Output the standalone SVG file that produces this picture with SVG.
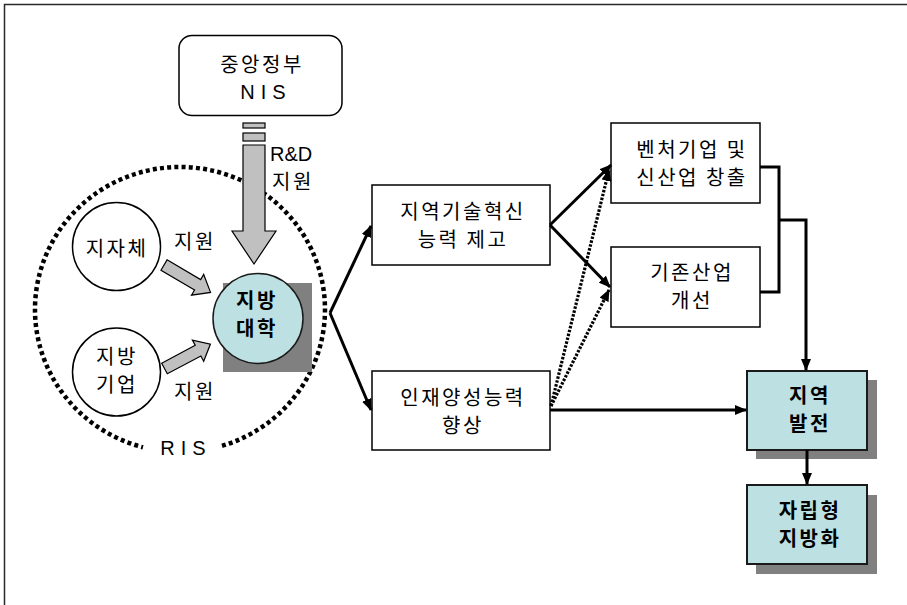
<svg xmlns="http://www.w3.org/2000/svg" width="907" height="605" viewBox="0 0 907 605">
<style>
.t{font-family:"Noto Sans CJK KR","Liberation Sans",sans-serif;font-size:20px;letter-spacing:2.5px;text-anchor:middle;fill:#000}
.b{font-weight:bold}
.lat{font-family:"Liberation Sans","Noto Sans CJK KR",sans-serif;font-size:20px;fill:#000}
.box{fill:#fff;stroke:#000;stroke-width:1.5}
.cy{fill:#bde0e3;stroke:#1a1a1a;stroke-width:2}
.sh{fill:#808080}
.blk{fill:#c0c0c0;stroke:#000;stroke-width:1.2;stroke-linejoin:miter}
.ln{fill:none;stroke:#000;stroke-width:3}
.dl{fill:none;stroke:#000;stroke-width:3.2;stroke-dasharray:2.5 1.5}
</style>
<defs>
<marker id="ah" markerUnits="userSpaceOnUse" markerWidth="12" markerHeight="10" refX="11" refY="5" orient="auto">
<path d="M0,0 L12,5 L0,10 z" fill="#000"/>
</marker>
</defs>
<rect width="907" height="605" fill="#fff"/>
<path d="M4.5,605 V4.5 H907" fill="none" stroke="#2a2a2a" stroke-width="1.5"/>

<g id="ris">
<path d="M 222 445.9 A 145 142.5 0 1 0 143 447.3" fill="none" stroke="#000" stroke-width="4.5" stroke-dasharray="4 3.2"/>
<text class="lat" x="186" y="455" text-anchor="middle" letter-spacing="6">RIS</text>
</g>

<g id="central">
<rect class="box" x="179" y="35.5" width="163" height="80" rx="13"/>
<text class="t" x="262" y="72">중앙정부</text>
<text class="lat" x="266" y="99" text-anchor="middle" letter-spacing="6">NIS</text>
</g>

<g id="rnd-arrow">
<rect class="blk" x="243" y="123" width="22" height="5"/>
<rect class="blk" x="243" y="133" width="22" height="8"/>
<polygon class="blk" points="243,145 265,145 265,231 276,231 254,264 232,231 243,231"/>
<text class="lat" x="270" y="161">R&amp;D</text>
<text class="t" x="293" y="189">지원</text>
</g>

<g id="jijache">
<circle cx="116.5" cy="246.5" r="44" fill="#fff" stroke="#000" stroke-width="1.5"/>
<text class="t" x="117" y="256">지자체</text>
</g>

<g id="jibang-giup">
<circle cx="116.5" cy="372" r="44" fill="#fff" stroke="#000" stroke-width="1.5"/>
<text class="t" x="117" y="364">지방<tspan x="117" dy="28">기업</tspan></text>
</g>

<g id="support-arrows">
<polygon class="blk" transform="translate(164,265) rotate(30.5)" points="0,-6 39,-6 39,-12 54,0 39,12 39,6 0,6"/>
<text class="t" x="195" y="249">지원</text>
<polygon class="blk" transform="translate(164.5,368.5) rotate(-28)" points="0,-6 38,-6 38,-12 52,0 38,12 38,6 0,6"/>
<text class="t" x="195" y="399">지원</text>
</g>

<g id="univ">
<rect class="sh" x="223" y="283" width="89" height="89"/>
<circle cx="258" cy="318.5" r="45" fill="#bde0e3" stroke="#1a1a1a" stroke-width="1.5"/>
<text class="t b" x="257" y="308">지방<tspan x="257" dy="27.5">대학</tspan></text>
</g>

<g id="tech">
<rect class="box" x="372" y="185" width="178" height="80"/>
<text class="t" x="463" y="219">지역기술혁신<tspan x="463" dy="27.5">능력 제고</tspan></text>
</g>

<g id="talent">
<rect class="box" x="372" y="371" width="178" height="79"/>
<text class="t" x="463" y="405">인재양성능력<tspan x="463" dy="27.5">향상</tspan></text>
</g>

<g id="venture">
<rect class="box" x="611" y="123" width="149" height="80"/>
<text class="t" x="692" y="157">벤처기업 및<tspan x="692" dy="27.5">신산업 창출</tspan></text>
</g>

<g id="existing">
<rect class="box" x="611" y="247" width="149" height="80"/>
<text class="t" x="692" y="280">기존산업<tspan x="692" dy="27.5">개선</tspan></text>
</g>

<g id="regional-dev">
<rect class="sh" x="756" y="380" width="121" height="79"/>
<rect class="cy" x="747" y="371" width="120" height="79"/>
<text class="t b" x="810" y="403">지역<tspan x="810" dy="27.5">발전</tspan></text>
</g>

<g id="self-reliant">
<rect class="sh" x="756" y="495" width="121" height="79"/>
<rect class="cy" x="747" y="485" width="120" height="79"/>
<text class="t b" x="810" y="518">자립형<tspan x="810" dy="27.5">지방화</tspan></text>
</g>

<g id="connectors">
<path class="ln" d="M330,313 L371,226" marker-end="url(#ah)"/>
<path class="ln" d="M330,313 L371,410" marker-end="url(#ah)"/>
<path class="ln" d="M550,225 L611,165" marker-end="url(#ah)"/>
<path class="ln" d="M550,225 L610,287" marker-end="url(#ah)"/>
<path class="dl" d="M551,406 L609,170" marker-end="url(#ah)"/>
<path class="dl" d="M551,406 L609,290" marker-end="url(#ah)"/>
<path class="ln" d="M550,410 L746,410" marker-end="url(#ah)"/>
<path class="ln" d="M760,167 H779 V292 H760"/>
<path class="ln" d="M779,220 H806 V370" marker-end="url(#ah)"/>
<path class="ln" d="M807,450 V484" marker-end="url(#ah)"/>
</g>
</svg>
